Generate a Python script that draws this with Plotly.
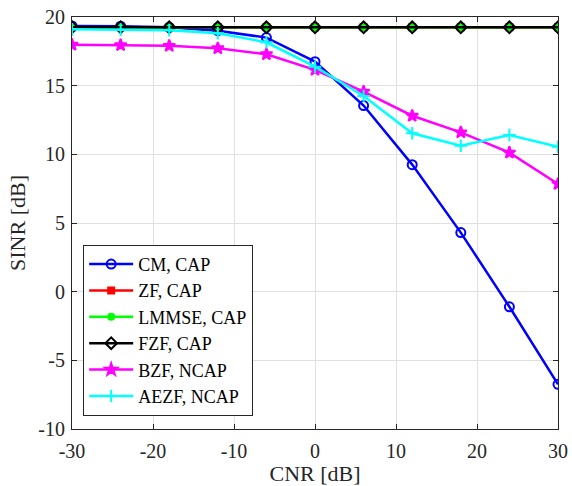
import plotly.graph_objects as go

cnr = [-30, -24, -18, -12, -6, 0, 6, 12, 18, 24, 30]
cm_cap = [19.35, 19.33, 19.25, 19.0, 18.5, 16.75, 13.55, 9.25, 4.3, -1.1, -6.75]
zf_cap = [19.25] * 11
lmmse_cap = [19.25] * 11
fzf_cap = [19.25] * 11
bzf_ncap = [17.98, 17.95, 17.9, 17.72, 17.29, 16.15, 14.56, 12.81, 11.6, 10.12, 7.84]
aezf_ncap = [19.1, 19.08, 19.03, 18.82, 18.16, 16.38, 14.25, 11.53, 10.63, 11.41, 10.55]
x_ticks = [-30, -20, -10, 0, 10, 20, 30]
x_labels = ["-30", "-20", "-10", "0", "10", "20", "30"]
y_ticks = [-10, -5, 0, 5, 10, 15, 20]
y_labels = ["-10", "-5", "0", "5", "10", "15", "20"]

series = [
    ("CM, CAP", cm_cap, "blue", "circle-open", 9),
    ("ZF, CAP", zf_cap, "red", "square", 6),
    ("LMMSE, CAP", lmmse_cap, "#00ff00", "circle", 6),
    ("FZF, CAP", fzf_cap, "black", "diamond-open", 9),
    ("BZF, NCAP", bzf_ncap, "magenta", "star", 9),
    ("AEZF, NCAP", aezf_ncap, "cyan", "cross-thin-open", 9),
]

fig = go.Figure()
for name, ys, col, sym, sz in series:
    fig.add_trace(go.Scatter(
        x=cnr, y=ys, name=name, mode="lines+markers",
        line=dict(color=col, width=2.5),
        marker=dict(symbol=sym, size=sz, color=col, line=dict(color=col, width=2)),
    ))

FONT = "Liberation Serif"
axis_common = dict(
    showgrid=True, gridcolor="#e0e0e0", gridwidth=1,
    showline=True, linecolor="#262626", linewidth=1, mirror="ticks",
    ticks="inside", ticklen=5, tickcolor="#262626",
    zeroline=False, tickfont=dict(family=FONT, size=20, color="#262626"),
    automargin=False,
)
fig.update_xaxes(range=[-30, 30], tickvals=x_ticks, ticktext=x_labels, ticklabelstandoff=4,
                 title=dict(text="CNR [dB]", font=dict(family=FONT, size=22, color="#262626"), standoff=2), **axis_common)
fig.update_yaxes(range=[-10, 20], tickvals=y_ticks, ticktext=y_labels, ticklabelstandoff=2,
                 title=dict(text="SINR [dB]", font=dict(family=FONT, size=22, color="#262626"), standoff=6), **axis_common)

fig.update_layout(
    width=572, height=486,
    margin=dict(l=72, r=14, t=17, b=57),
    paper_bgcolor="white", plot_bgcolor="white",
    font=dict(family=FONT, size=18, color="black"),
    legend=dict(
        x=0.023, y=0.032, xanchor="left", yanchor="bottom",
        bgcolor="white", bordercolor="#262626", borderwidth=1,
        font=dict(family=FONT, size=18, color="black"), tracegroupgap=0, itemwidth=44,
    ),
    showlegend=True,
)

fig.write_html("out.html")
